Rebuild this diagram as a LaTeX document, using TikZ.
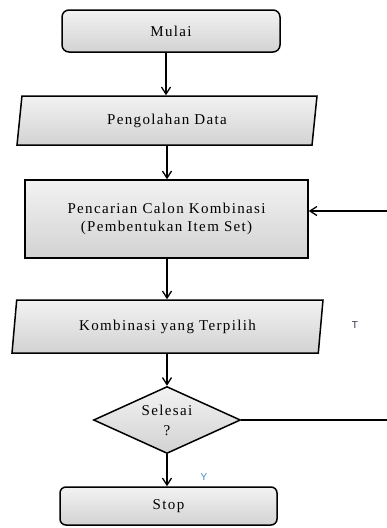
\documentclass[tikz,border=0pt]{standalone}
\usepackage{fontspec}
\setmainfont{Liberation Serif}
\setsansfont{Liberation Sans}
\usetikzlibrary{shapes.geometric,arrows.meta}
\definecolor{tcol}{HTML}{2E3440}
\definecolor{ycol}{HTML}{3A8FC8}
\begin{document}
\begin{tikzpicture}[x=1pt,y=1pt,
  every node/.style={font=\fontsize{15}{17}\selectfont\addfontfeature{LetterSpace=9}},
  boxfill/.style={draw=black,line width=1.5pt,top color=gray!10,bottom color=gray!35},
  termbox/.style={boxfill,rectangle,rounded corners=7pt,inner sep=0pt},
  iobox/.style={boxfill,trapezium,trapezium stretches body,inner sep=0pt},
  procbox/.style={boxfill,rectangle,inner sep=0pt,align=center},
  decbox/.style={boxfill,diamond,inner sep=0pt},
  arr/.style={line width=1.7pt,-{Straight Barb[length=7pt,width=9pt,line width=1.3pt]}},
  ln/.style={line width=1.3pt},
  lbl/.style={font=\sffamily\fontsize{10}{11}\selectfont}]
\useasboundingbox (0,0) rectangle (387,-528);
\node[termbox,minimum width=218pt,minimum height=42pt] (mulai) at (171,-31) {Mulai};
\node[iobox,trapezium left angle=70,trapezium right angle=110,minimum width=300pt,minimum height=49pt] (peng) at (167,-120.5) {Pengolahan Data};
\node[procbox,minimum width=283pt,minimum height=78pt] (cari) at (166.5,-219) {Pencarian Calon Kombinasi\\[1pt](Pembentukan Item Set)};
\node[iobox,trapezium left angle=71,trapezium right angle=109,minimum width=311pt,minimum height=53pt] (komb) at (167.5,-326.5) {Kombinasi yang Terpilih};
\node[decbox,minimum width=147pt,minimum height=67pt] (sel) at (167,-420) {\smash{\raisebox{-6pt}{\begin{tabular}{@{}c@{}}Selesai\\[3pt]?\end{tabular}}}};
\node[termbox,rounded corners=6pt,minimum width=217pt,minimum height=38pt] (stop) at (168.5,-506) {Stop};
\coordinate (r1) at (387,-211);
\coordinate (r2) at (387,-420);
\node[lbl,text=tcol] (tl) at (355,-325) {T};
\node[lbl,text=ycol] (yl) at (204,-477) {Y};
\draw[arr] (mulai.south -| 166,0) -- (peng.north -| 166,0);
\draw[arr] (peng.south -| 167,0) -- (cari.north -| 167,0);
\draw[arr] (cari.south -| 167,0) -- (komb.north -| 167,0);
\draw[arr] (komb.south -| 167,0) -- (sel.north);
\draw[arr] (sel.south) -- (stop.north -| sel.south);
\draw[arr] (r1) -- (r1 -| cari.east);
\draw[ln] (sel.east) -- (r2);
\end{tikzpicture}
\end{document}
